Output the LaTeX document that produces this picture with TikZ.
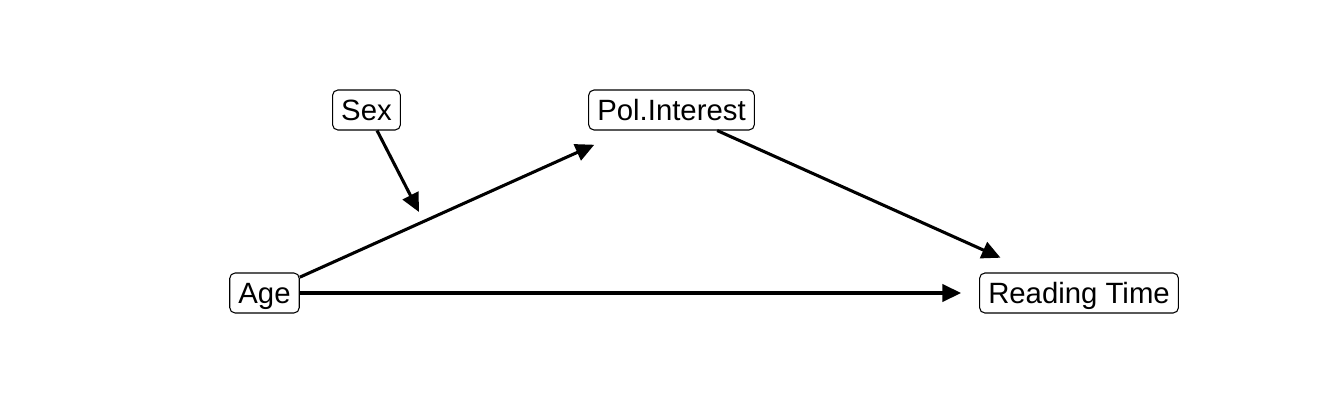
\documentclass[tikz,border=0pt]{standalone}
\usepackage{fontspec}
\setmainfont{Liberation Sans}
\usetikzlibrary{arrows.meta}

\begin{document}
\begin{tikzpicture}[x=0.75pt, y=-0.75pt,
            var/.style={rectangle, rounded corners=4pt, draw=black, line width=0.8pt, fill=white, minimum height=30pt, inner xsep=6.5pt, text height=18pt, text depth=3pt, font=\fontsize{22}{26}\selectfont},
            edge/.style={-{Triangle[length=14pt, width=13pt]}, line width=2.3pt, black}
        ]
            \useasboundingbox (0,0) rectangle (1344,403);

            \node[var] (sex) at (366.5,110) {Sex};
            \node[var] (pol) at (671.5,110) {Pol.Interest};
            \node[var] (age) at (264.5,293) {Age};
            \node[var] (read) at (1079,293) {Reading Time};
            \coordinate (mod) at (419,212);

            \draw[edge, shorten >=26pt] (age) -- (pol);
            \draw[edge, shorten >=27pt] (pol) -- (read);
            \draw[edge, shorten >=13.5pt] (age) -- (read);
            \draw[edge] (sex) -- (mod);
        \end{tikzpicture}
\end{document}
